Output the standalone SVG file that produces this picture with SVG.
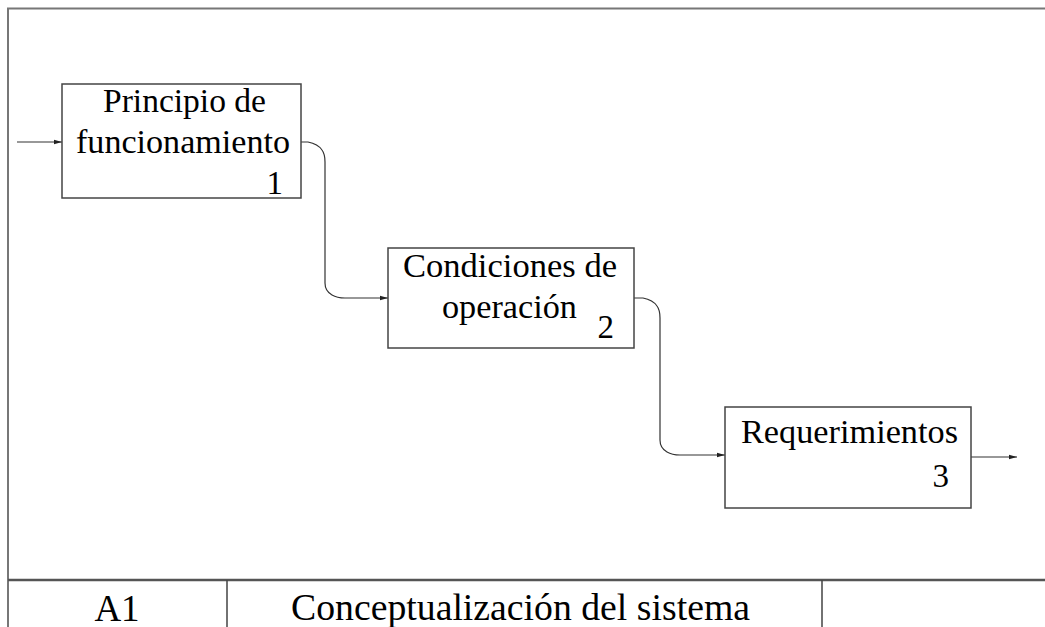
<svg xmlns="http://www.w3.org/2000/svg" width="1045" height="627" viewBox="0 0 1045 627">
<defs>
<style>
.frame{fill:none;stroke:#777;stroke-width:2}
.foot{fill:none;stroke:#555;stroke-width:2.5}
.div{fill:none;stroke:#444;stroke-width:1.5}
.box{fill:#fff;stroke:#444;stroke-width:1.5}
.con{fill:none;stroke:#333;stroke-width:1.2}
</style>
<marker id="ah" markerUnits="userSpaceOnUse" markerWidth="9" markerHeight="6" refX="8" refY="3" orient="auto">
<path d="M0,0.8 L8,3 L0,5.2 Z" fill="#222"/>
</marker>
</defs>
<rect width="1045" height="627" fill="#fff"/>
<g id="frame" font-family="Liberation Serif, Tinos, Times New Roman, DejaVu Serif, serif" font-size="37" fill="#000">
<path class="frame" d="M8,627 V8.5 H1045"/>
<path class="foot" d="M8,580 H1045"/>
<path class="div" d="M227,580 V627 M822,580 V627"/>
<text x="117" y="621" text-anchor="middle">A1</text>
<text x="291" y="620" textLength="459" lengthAdjust="spacingAndGlyphs">Conceptualización del sistema</text>
</g>
<g id="connectors">
<path class="con" d="M17,142 H62" marker-end="url(#ah)"/>
<path class="con" d="M301,142 H308 Q318,144 322,150 Q325,154 325,162 V283 Q325,291 332,295 Q337,298 345,298 H388" marker-end="url(#ah)"/>
<path class="con" d="M634,298 H643 Q653,300 657,306 Q660,310 660,318 V440 Q660,448 667,452 Q672,455 680,455 H725" marker-end="url(#ah)"/>
<path class="con" d="M971,457 H1017" marker-end="url(#ah)"/>
</g>
<g id="node1" font-family="Liberation Serif, Tinos, Times New Roman, DejaVu Serif, serif" font-size="33" fill="#000">
<rect class="box" x="62" y="84" width="239" height="114"/>
<text x="103" y="112" textLength="163" lengthAdjust="spacingAndGlyphs">Principio de</text>
<text x="76" y="153" textLength="214" lengthAdjust="spacingAndGlyphs">funcionamiento</text>
<text x="283" y="194" text-anchor="end">1</text>
</g>
<g id="node2" font-family="Liberation Serif, Tinos, Times New Roman, DejaVu Serif, serif" font-size="33" fill="#000">
<rect class="box" x="388" y="248" width="246" height="100"/>
<text x="403" y="277" textLength="214" lengthAdjust="spacingAndGlyphs">Condiciones de</text>
<text x="442" y="318" textLength="135" lengthAdjust="spacingAndGlyphs">operación</text>
<text x="614" y="338" text-anchor="end">2</text>
</g>
<g id="node3" font-family="Liberation Serif, Tinos, Times New Roman, DejaVu Serif, serif" font-size="33" fill="#000">
<rect class="box" x="725" y="407" width="246" height="101"/>
<text x="741" y="443" textLength="217" lengthAdjust="spacingAndGlyphs">Requerimientos</text>
<text x="949" y="487" text-anchor="end">3</text>
</g>
</svg>
